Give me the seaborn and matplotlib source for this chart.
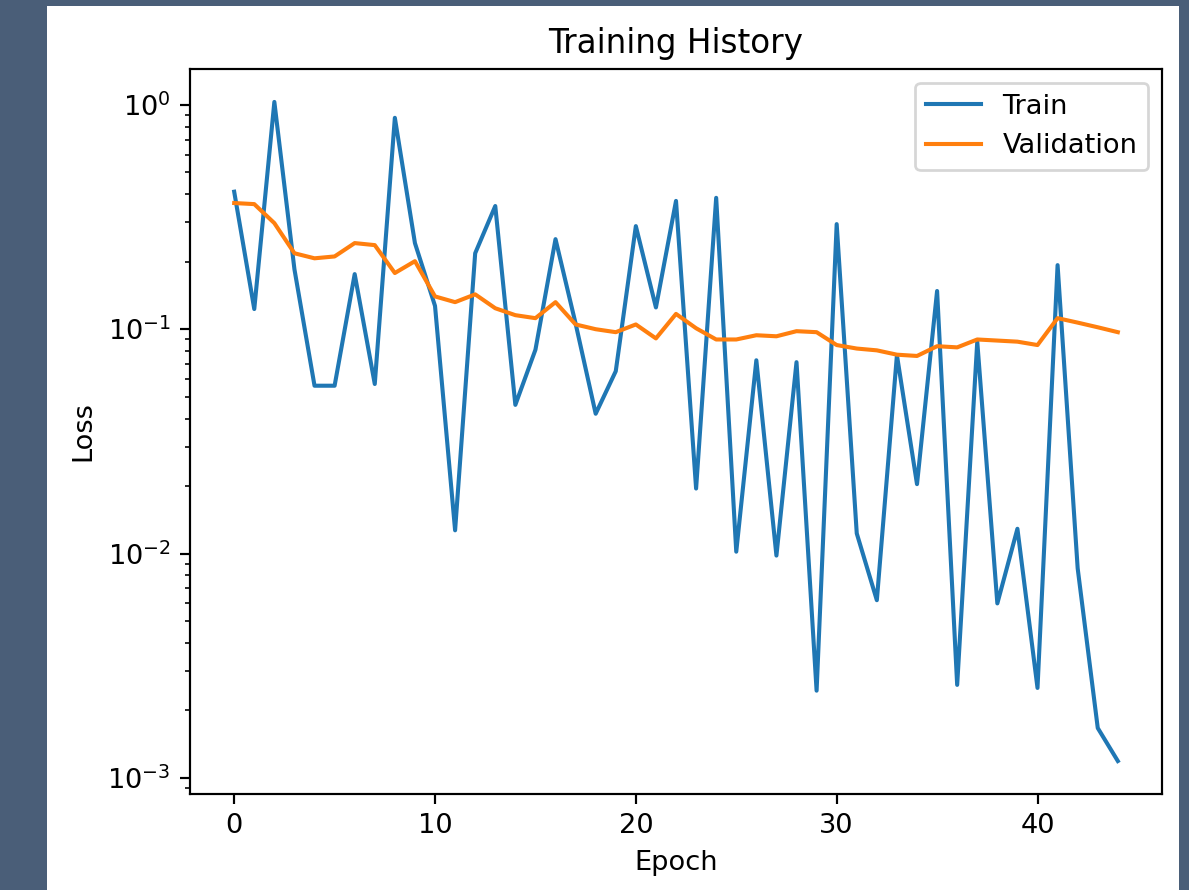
import numpy as np
import pandas as pd
import matplotlib
matplotlib.use("Agg")
import matplotlib.pyplot as plt
from matplotlib.patches import Rectangle
import seaborn as sns

# Loss history per epoch
epochs = list(range(45))
train_loss = [
    0.41, 0.123, 1.03, 0.185, 0.056, 0.056, 0.176, 0.057, 0.875, 0.242,
    0.127, 0.0127, 0.218, 0.354, 0.046, 0.081, 0.252, 0.106, 0.042, 0.065,
    0.288, 0.125, 0.373, 0.0195, 0.385, 0.0102, 0.0727, 0.0098, 0.0713, 0.00245,
    0.294, 0.0123, 0.0062, 0.0766, 0.0204, 0.148, 0.0026, 0.088, 0.0060, 0.0129,
    0.00252, 0.193, 0.0086, 0.00167, 0.00119,
]
val_loss = [
    0.365, 0.361, 0.297, 0.218, 0.207, 0.211, 0.242, 0.237, 0.178, 0.201,
    0.140, 0.132, 0.143, 0.124, 0.1155, 0.112, 0.132, 0.105, 0.100, 0.097,
    0.105, 0.091, 0.117, 0.101, 0.090, 0.090, 0.094, 0.093, 0.098, 0.097,
    0.085, 0.082, 0.0805, 0.077, 0.076, 0.084, 0.083, 0.090, 0.089, 0.088,
    0.085, 0.112, 0.107, 0.102, 0.097,
]
series_names = ["Train", "Validation"]
series_colors = ["#1f77b4", "#ff7f0e"]

df = pd.concat([
    pd.DataFrame({"Epoch": epochs, "Loss": train_loss, "Series": series_names[0]}),
    pd.DataFrame({"Epoch": epochs, "Loss": val_loss, "Series": series_names[1]}),
], ignore_index=True)

W, H, DPI = 1189, 890, 196
fig = plt.figure(figsize=(W / DPI + 1e-4, H / DPI + 1e-4), dpi=DPI)
fig.patch.set_facecolor("#4a5e78")
fig.add_artist(Rectangle((47 / W, 0), (1179 - 47) / W, (H - 6) / H,
                         transform=fig.transFigure, facecolor="white",
                         edgecolor="none", zorder=0))

ax = fig.add_axes([190 / W, (H - 794) / H, (1162 - 190) / W, (794 - 69) / H])
ax.set_facecolor("white")

sns.lineplot(data=df, x="Epoch", y="Loss", hue="Series",
             palette=dict(zip(series_names, series_colors)),
             linewidth=1.5, ax=ax, legend=True)
ax.set_yscale("log")
ax.set_title("Training History")
ax.set_xlabel("Epoch")
ax.set_ylabel("Loss")
ax.legend(title=None, loc="upper right")

fig.savefig("out.png", dpi=DPI, facecolor=fig.get_facecolor())
